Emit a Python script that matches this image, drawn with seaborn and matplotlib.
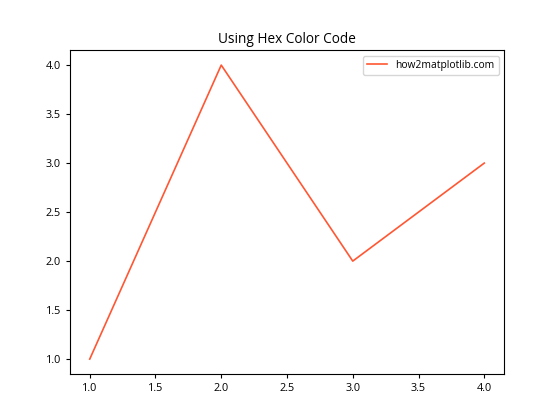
import matplotlib
matplotlib.use("Agg")
import matplotlib.pyplot as plt
import seaborn as sns
import pandas as pd

# Data
x_values = [1, 2, 3, 4]
y_values = [1, 4, 2, 3]
line_label = "how2matplotlib.com"
line_color = "#FF5733"

df = pd.DataFrame({"x": x_values, "y": y_values})

plt.rcParams['font.family'] = ['Open Sans', 'DejaVu Sans']
plt.rcParams['font.size'] = 7.8
plt.rcParams['axes.titlesize'] = 9.8

fig, ax = plt.subplots(figsize=(5.6, 4.2), dpi=100)
sns.lineplot(data=df, x="x", y="y", color=line_color, label=line_label,
             linewidth=1.2, ax=ax)
ax.set_title("Using Hex Color Code", pad=5)
ax.set_xlabel("")
ax.set_ylabel("")
ax.tick_params(length=3)
ax.legend(loc="upper right", fontsize=7.4, handlelength=2.0)

fig.savefig("out.png", dpi=100)
